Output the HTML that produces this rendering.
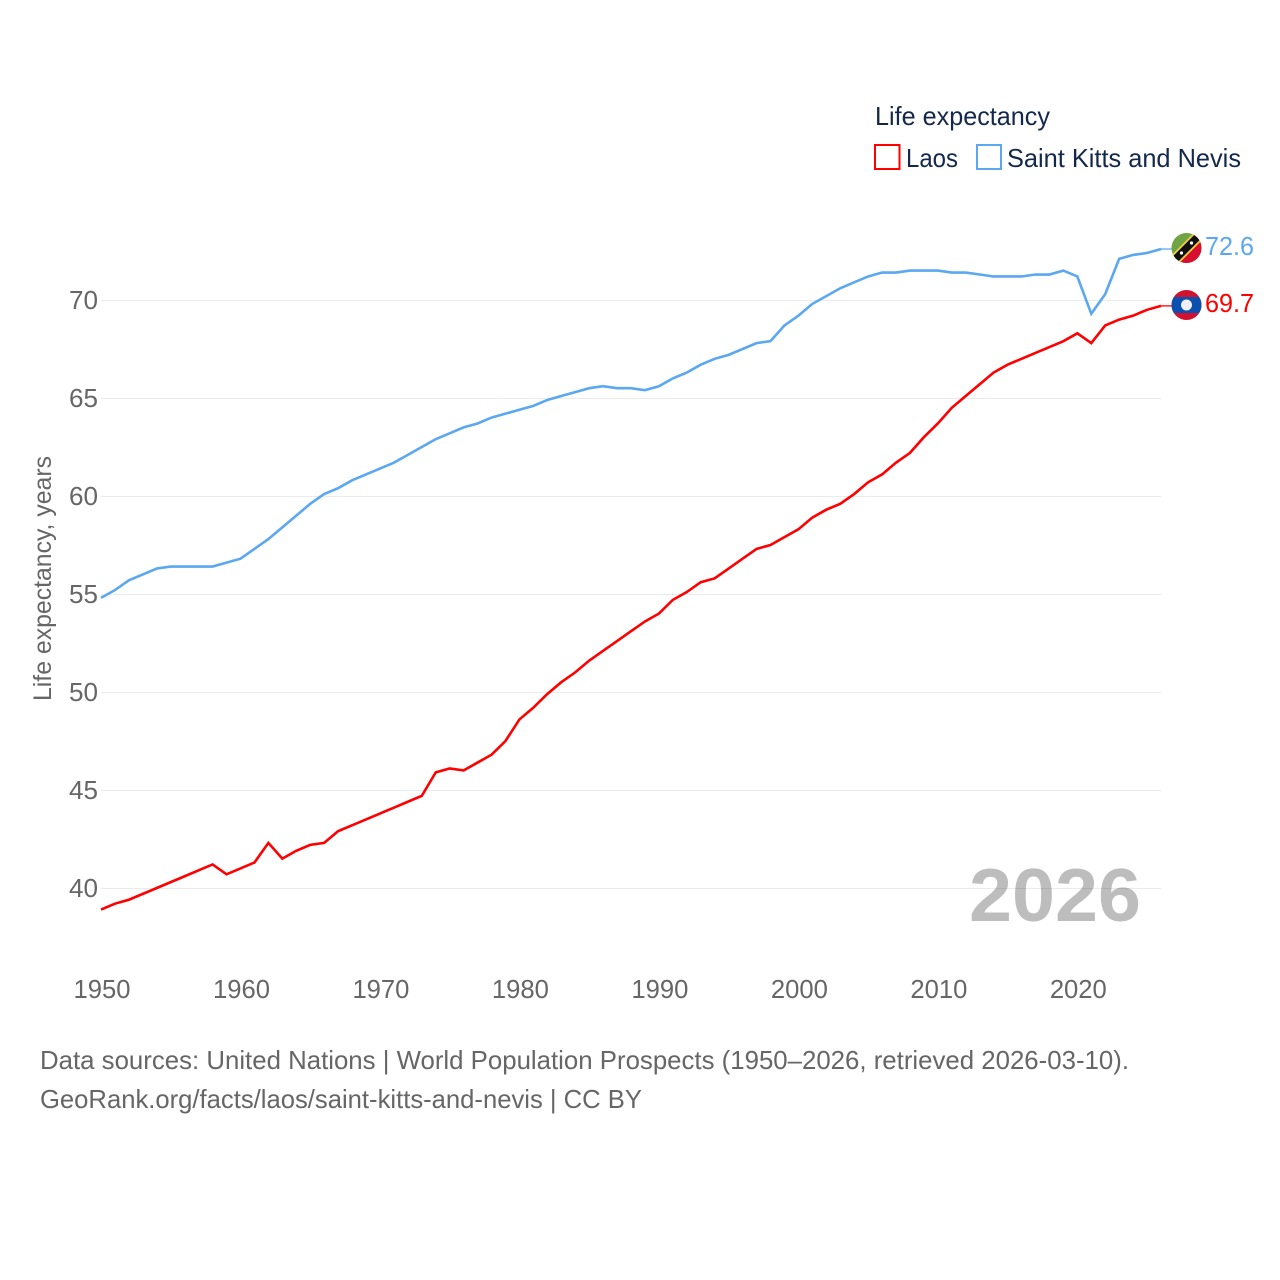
<!DOCTYPE html>
<html lang="en">
<head>
<meta charset="utf-8">
<title>Life expectancy: Laos and Saint Kitts and Nevis</title>
<style>
html,body{margin:0;padding:0;background:#fff;}
svg{display:block;}
text{font-family:"Liberation Sans",sans-serif;}
</style>
</head>
<body>
<svg id="chart" xmlns="http://www.w3.org/2000/svg" width="1280" height="1280" viewBox="0 0 1280 1280">
  <rect width="1280" height="1280" fill="#ffffff"/>
  <defs>
    <clipPath id="clip-kn"><circle cx="1186.5" cy="248" r="15"/></clipPath>
    <clipPath id="clip-la"><circle cx="1186.5" cy="305" r="15"/></clipPath>
  </defs>
  <text x="969" y="921" font-size="75" font-weight="700" fill="#bdbdbd" textLength="172" lengthAdjust="spacingAndGlyphs">2026</text>
  <g id="grid"></g>
  <g id="yticks"></g>
  <g id="xticks"></g>
  <g id="series"></g>

  <text transform="translate(51,701) rotate(-90)" font-size="25" fill="#666666" textLength="245" lengthAdjust="spacingAndGlyphs">Life expectancy, years</text>

  <text x="875" y="125" font-size="26" fill="#14284b" textLength="175" lengthAdjust="spacingAndGlyphs">Life expectancy</text>
  <g>
    <rect x="875" y="145" width="24.5" height="24" fill="#ffffff" stroke="#ff0000" stroke-width="2"/>
    <text x="906" y="167" font-size="26" fill="#14284b" textLength="52" lengthAdjust="spacingAndGlyphs">Laos</text>
  </g>
  <g>
    <rect x="977" y="145" width="24" height="24" fill="#ffffff" stroke="#5ba8f0" stroke-width="2"/>
    <text x="1007" y="167" font-size="26" fill="#14284b" textLength="234" lengthAdjust="spacingAndGlyphs">Saint Kitts and Nevis</text>
  </g>

  <g clip-path="url(#clip-kn)">
    <rect x="1171" y="233" width="31" height="30" fill="#6fa445"/>
    <polygon points="1171.5,263 1201.5,233 1202,263" fill="#d8102f"/>
    <line x1="1170.5" y1="264" x2="1202.5" y2="232" stroke="#f5d33a" stroke-width="11"/>
    <line x1="1170.5" y1="264" x2="1202.5" y2="232" stroke="#111111" stroke-width="7.5"/>
    <circle cx="1181.5" cy="253" r="1.6" fill="#ffffff"/>
    <circle cx="1191.5" cy="243" r="1.6" fill="#ffffff"/>
  </g>
  <g clip-path="url(#clip-la)">
    <rect x="1171" y="290" width="31" height="30" fill="#d2102f"/>
    <rect x="1171" y="297" width="31" height="16" fill="#0b50ae"/>
    <circle cx="1186.5" cy="305" r="5.5" fill="#eef0f4"/>
  </g>

  <text x="1205" y="255" font-size="26" fill="#5ba8f0" textLength="49" lengthAdjust="spacingAndGlyphs">72.6</text>
  <text x="1205" y="312" font-size="26" fill="#ff0000" textLength="49" lengthAdjust="spacingAndGlyphs">69.7</text>

  <text x="40" y="1069" font-size="26" fill="#666666" textLength="1089" lengthAdjust="spacingAndGlyphs">Data sources: United Nations | World Population Prospects (1950–2026, retrieved 2026-03-10).</text>
  <text x="40" y="1108" font-size="26" fill="#666666" textLength="602" lengthAdjust="spacingAndGlyphs">GeoRank.org/facts/laos/saint-kitts-and-nevis | CC BY</text>
</svg>
<script>
var startYear = 1950;
var endYear = 2026;
var yTickValues = [40, 45, 50, 55, 60, 65, 70];
var xTickValues = [1950, 1960, 1970, 1980, 1990, 2000, 2010, 2020];
var laosValues = [
  38.9, 39.2, 39.4, 39.7, 40.0, 40.3, 40.6, 40.9, 41.2, 40.7,
  41.0, 41.3, 42.3, 41.5, 41.9, 42.2, 42.3, 42.9, 43.2, 43.5,
  43.8, 44.1, 44.4, 44.7, 45.9, 46.1, 46.0, 46.4, 46.8, 47.5,
  48.6, 49.2, 49.9, 50.5, 51.0, 51.6, 52.1, 52.6, 53.1, 53.6,
  54.0, 54.7, 55.1, 55.6, 55.8, 56.3, 56.8, 57.3, 57.5, 57.9,
  58.3, 58.9, 59.3, 59.6, 60.1, 60.7, 61.1, 61.7, 62.2, 63.0,
  63.7, 64.5, 65.1, 65.7, 66.3, 66.7, 67.0, 67.3, 67.6, 67.9,
  68.3, 67.8, 68.7, 69.0, 69.2, 69.5, 69.7
];
var kittsValues = [
  54.8, 55.2, 55.7, 56.0, 56.3, 56.4, 56.4, 56.4, 56.4, 56.6,
  56.8, 57.3, 57.8, 58.4, 59.0, 59.6, 60.1, 60.4, 60.8, 61.1,
  61.4, 61.7, 62.1, 62.5, 62.9, 63.2, 63.5, 63.7, 64.0, 64.2,
  64.4, 64.6, 64.9, 65.1, 65.3, 65.5, 65.6, 65.5, 65.5, 65.4,
  65.6, 66.0, 66.3, 66.7, 67.0, 67.2, 67.5, 67.8, 67.9, 68.7,
  69.2, 69.8, 70.2, 70.6, 70.9, 71.2, 71.4, 71.4, 71.5, 71.5,
  71.5, 71.4, 71.4, 71.3, 71.2, 71.2, 71.2, 71.3, 71.3, 71.5,
  71.2, 69.3, 70.3, 72.1, 72.3, 72.4, 72.6
];

var NS = 'http://www.w3.org/2000/svg';
var plotLeft = 101;
var plotRight = 1161;
var flagEdge = 1172;
function xScale(year) {
  return plotLeft + (year - startYear) * (plotRight - plotLeft) / (endYear - startYear);
}
function yScale(value) {
  return 888 - (value - 40) * 19.6;
}

var gridGroup = document.getElementById('grid');
var yGroup = document.getElementById('yticks');
var xGroup = document.getElementById('xticks');
var seriesGroup = document.getElementById('series');

yTickValues.forEach(function (v) {
  var line = document.createElementNS(NS, 'line');
  
  
  line.setAttribute('x1', plotLeft);
  line.setAttribute('x2', plotRight);
  line.setAttribute('y1', yScale(v) + 0.5);
  line.setAttribute('y2', yScale(v) + 0.5);
  line.setAttribute('stroke', '#000000');
  line.setAttribute('stroke-opacity', '0.08');
  line.setAttribute('stroke-width', '1');
  gridGroup.appendChild(line);

  var label = document.createElementNS(NS, 'text');
  
  
  label.setAttribute('x', 69);
  label.setAttribute('y', yScale(v) + 9);
  label.setAttribute('font-size', '26');
  label.setAttribute('fill', '#666666');
  label.setAttribute('textLength', '29');
  label.setAttribute('lengthAdjust', 'spacingAndGlyphs');
  label.textContent = String(v);
  yGroup.appendChild(label);
});

xTickValues.forEach(function (year) {
  var label = document.createElementNS(NS, 'text');
  
  
  label.setAttribute('x', xScale(year) - 27.5);
  label.setAttribute('y', 998);
  label.setAttribute('font-size', '26');
  label.setAttribute('fill', '#666666');
  label.setAttribute('textLength', '57');
  label.setAttribute('lengthAdjust', 'spacingAndGlyphs');
  label.textContent = String(year);
  xGroup.appendChild(label);
});

function drawSeries(values, color, seriesName, connectorName) {
  var pts = values.map(function (v, i) {
    return xScale(startYear + i).toFixed(2) + ',' + yScale(v).toFixed(2);
  });
  var line = document.createElementNS(NS, 'polyline');
  
  
  line.setAttribute('points', pts.join(' '));
  line.setAttribute('fill', 'none');
  line.setAttribute('stroke', color);
  line.setAttribute('stroke-width', '2.6');
  line.setAttribute('stroke-linejoin', 'miter');
  seriesGroup.appendChild(line);

  var lastY = yScale(values[values.length - 1]);
  var connector = document.createElementNS(NS, 'line');
  
  
  connector.setAttribute('x1', plotRight);
  connector.setAttribute('x2', flagEdge);
  connector.setAttribute('y1', lastY);
  connector.setAttribute('y2', lastY);
  connector.setAttribute('stroke', color);
  connector.setAttribute('stroke-width', '1.3');
  seriesGroup.appendChild(connector);
}

drawSeries(kittsValues, '#5ba8f0', 'line-saint-kitts-and-nevis', 'connector-saint-kitts-and-nevis');
drawSeries(laosValues, '#ff0000', 'line-laos', 'connector-laos');
</script>
</body>
</html>
